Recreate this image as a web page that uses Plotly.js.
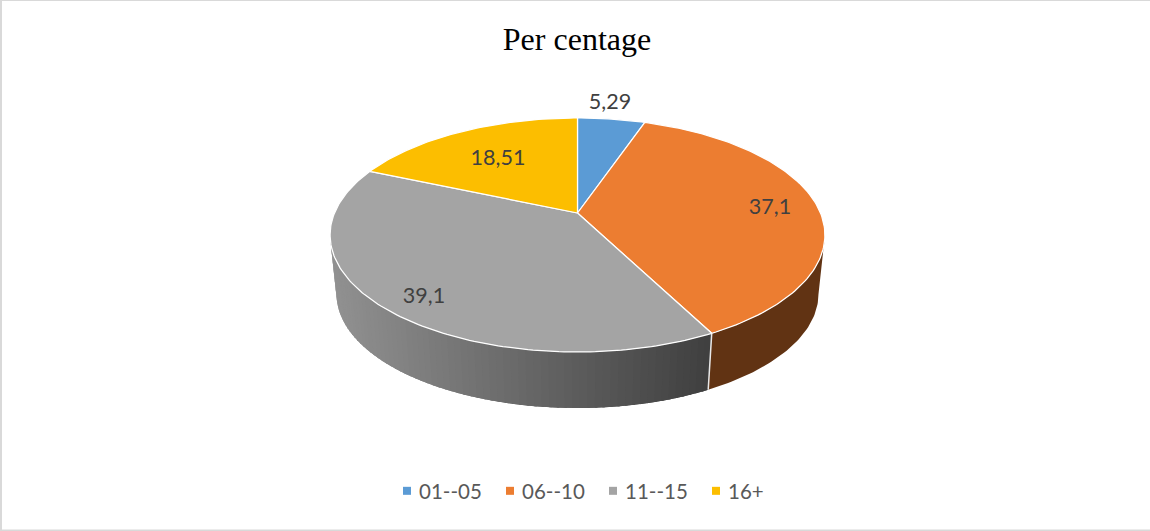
<!DOCTYPE html>
<html>
<head>
<meta charset="utf-8">
<script src="https://cdn.plot.ly/plotly-3.0.1.min.js"></script>
<style>html,body{margin:0;padding:0;background:#fff}#chart{width:1150px;height:531px}</style>
</head>
<body>
<div id="chart"></div>
<script>
// Chart data
const categories = ['01--05', '06--10', '11--15', '16+'];
const percentages = [5.29, 37.1, 39.1, 18.51];
const sliceColors = ['#5B9BD5', '#EC7D31', '#A4A4A4', '#FCBE00'];
const chartTitle = 'Per centage';

// Drawing settings for the tilted disc (axis units equal page pixels)
const disc = {cx: 577.5, cy: 213, rx: 243, ry: 112.9, persp: 0.188};
const floor = {cy: 272.6, scale: 0.974};
const wallFrom = 101, wallTo = 259;           // visible part of the rim, degrees clockwise from top
const wallShade = {
  '06--10': [[97, 51, 19], [97, 51, 19]],
  '11--15': [[144, 144, 144], [64, 64, 64]]
};
const labelAnchors = [[610, 104], [770, 209], [424, 298], [498, 160]];

// Project an angle on the disc to axis coordinates with a simple perspective
function project(deg, cy, scale) {
  const t = deg * Math.PI / 180, u = Math.sin(t), v = Math.cos(t);
  const w = 1 + disc.persp * v;
  return [disc.cx + scale * disc.rx * u / w, cy - scale * disc.ry * v / w];
}
function arc(a, b, cy, scale) {
  const pts = [], n = Math.max(2, Math.ceil(Math.abs(b - a)));
  for (let i = 0; i <= n; i++) pts.push(project(a + (b - a) * i / n, cy, scale));
  return pts;
}

const total = percentages.reduce((s, v) => s + v, 0);
let running = 0;
const spans = percentages.map(v => {
  const a = running / total * 360;
  running += v;
  return [a, running / total * 360];
});

const traces = [];

// Rim of the disc: each strip runs on under the next one, so no gaps show between them
spans.forEach((span, i) => {
  const shade = wallShade[categories[i]];
  if (!shade) return;
  const a = Math.max(span[0], wallFrom), b = Math.min(span[1], wallTo);
  if (b <= a) return;
  const flat = shade[0].every((s, j) => s === shade[1][j]);
  const steps = flat ? 1 : Math.ceil((b - a) / 1.5);
  for (let k = steps - 1; k >= 0; k--) {
    const a1 = a + (b - a) * k / steps;
    const a2 = a + (b - a) * (k + 1) / steps;
    const a0 = Math.max(a, a1 - 2);
    const poly = arc(a0, a2, disc.cy, 1).concat(arc(a2, a0, floor.cy, floor.scale));
    const midX = project((a1 + a2) / 2, disc.cy, 1)[0];
    const f = Math.min(1, Math.max(0, (midX - 336) / (707 - 336)));
    const c = shade[0].map((s, j) => Math.round(s + (shade[1][j] - s) * f));
    const col = `rgb(${c.join(',')})`;
    traces.push({
      type: 'scatter', mode: 'lines', fill: 'toself', fillcolor: col,
      x: poly.map(p => p[0]), y: poly.map(p => p[1]),
      line: {width: 0}, showlegend: false, hoverinfo: 'skip'
    });
  }
});

// Pale seam where two rim sections meet
spans.forEach(span => {
  const e = span[1];
  if (e > wallFrom && e < wallTo) {
    const p = project(e, disc.cy, 1), q = project(e, floor.cy, floor.scale);
    traces.push({
      type: 'scatter', mode: 'lines', x: [p[0], q[0]], y: [p[1], q[1]],
      line: {color: '#e8e8e8', width: 1.5}, showlegend: false, hoverinfo: 'skip'
    });
  }
});

// Top face of each slice
spans.forEach((span, i) => {
  const poly = [[disc.cx, disc.cy]].concat(arc(span[0], span[1], disc.cy, 1), [[disc.cx, disc.cy]]);
  traces.push({
    type: 'scatter', mode: 'lines', fill: 'toself', fillcolor: sliceColors[i],
    x: poly.map(p => p[0]), y: poly.map(p => p[1]),
    line: {color: '#ffffff', width: 1.25}, name: categories[i], showlegend: false,
    text: categories[i] + ': ' + percentages[i], hoverinfo: 'text', hoveron: 'fills'
  });
});

// Value labels, written with a decimal comma
traces.push({
  type: 'scatter', mode: 'text',
  x: labelAnchors.map(p => p[0]), y: labelAnchors.map(p => p[1]),
  text: percentages.map(v => String(v).replace('.', ',')),
  textposition: 'middle center',
  textfont: {family: 'Lato, sans-serif', size: 21.5, color: '#404040'},
  showlegend: false, hoverinfo: 'skip'
});

// Legend entries
categories.forEach((name, i) => {
  traces.push({
    type: 'scatter', mode: 'markers', x: [null], y: [null], name: name,
    marker: {symbol: 'square', size: 8, color: sliceColors[i]}, hoverinfo: 'skip'
  });
});

// Chart frame: thin grey strips along three edges
const frameColor = '#d9d9d9';
const frame = [[0, 0, 1150, 1], [0, 0, 2, 531], [0, 529.5, 1150, 531]].map(r => ({
  type: 'rect', xref: 'x', yref: 'y', x0: r[0], y0: r[1], x1: r[2], y1: r[3],
  fillcolor: frameColor, line: {width: 0}, layer: 'below'
}));

const layout = {
  width: 1150, height: 531,
  margin: {l: 0, r: 0, t: 0, b: 0},
  paper_bgcolor: '#ffffff', plot_bgcolor: '#ffffff',
  title: {
    text: chartTitle, x: 577 / 1150, xanchor: 'center', y: 1 - 39 / 531, yanchor: 'middle',
    font: {family: '"Liberation Serif", serif', size: 32, color: '#000000'}
  },
  xaxis: {range: [0, 1150], visible: false, fixedrange: true},
  yaxis: {range: [531, 0], visible: false, fixedrange: true},
  shapes: frame,
  showlegend: true,
  legend: {
    orientation: 'h', x: 387 / 1150, xanchor: 'left', y: 1 - 491 / 531, yanchor: 'middle',
    entrywidth: 58, entrywidthmode: 'pixels',
    font: {family: 'Lato, sans-serif', size: 20.5, color: '#595959'},
    bgcolor: 'rgba(0,0,0,0)'
  }
};

Plotly.newPlot('chart', traces, layout, {displayModeBar: false}).then(() => {
  // Pull the legend text closer to its swatch
  document.querySelectorAll('#chart .legendtext').forEach(t => t.setAttribute('x', 32));
});
</script>
</body>
</html>
